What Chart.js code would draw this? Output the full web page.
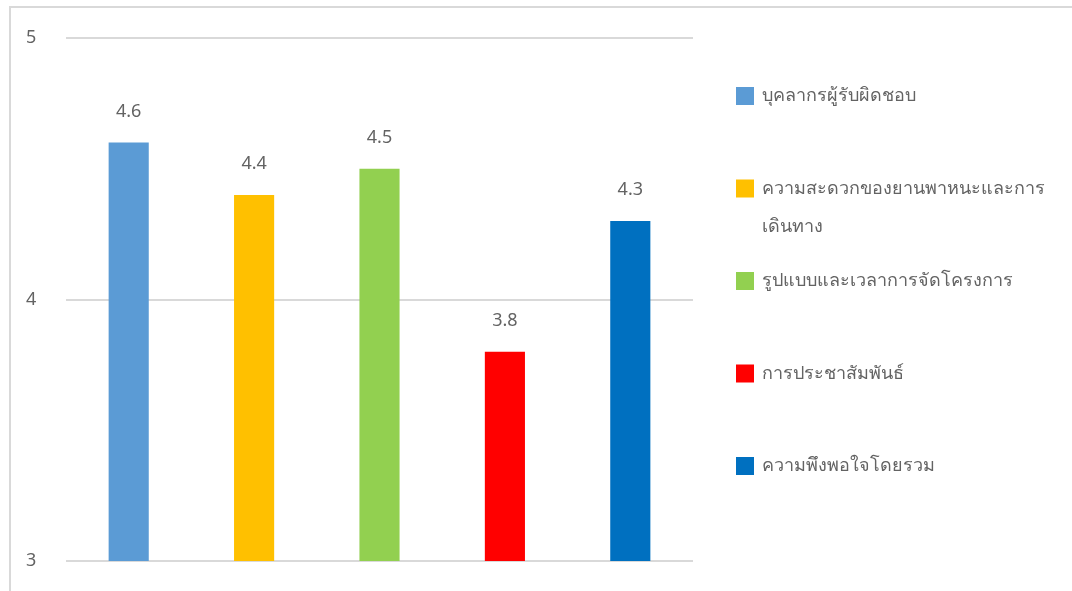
<!DOCTYPE html>
<html>
<head>
<meta charset="utf-8">
<script src="https://cdn.jsdelivr.net/npm/chart.js@4"></script>
<style>
  html, body { margin: 0; padding: 0; background: #fff; overflow: hidden; }
  #frame {
    position: absolute; left: 9px; top: 6px; width: 1200px; height: 700px;
    border-left: 2px solid #d9d9d9; border-top: 2px solid #d9d9d9;
  }
  #wrap { position: absolute; left: 0; top: 0; width: 1072px; height: 591px; }
</style>
</head>
<body>
<div id="frame"></div>
<div id="wrap"><canvas id="chart"></canvas></div>
<script>
// data
const categories = [''];
const seriesNames = [
    'บุคลากรผู้รับผิดชอบ',
    ['ความสะดวกของยานพาหนะและการ', 'เดินทาง'],
    'รูปแบบและเวลาการจัดโครงการ',
    'การประชาสัมพันธ์',
    'ความพึงพอใจโดยรวม'
];
const seriesValues = [4.6, 4.4, 4.5, 3.8, 4.3];
const seriesColors = ['#5B9BD5', '#FFC000', '#92D050', '#FF0000', '#0070C0'];
const yTicks = [3, 4, 5];

const FONT = "'Noto Sans', 'Leelawadee UI', Tahoma, sans-serif";
const TEXT = '#636363';

const datasets = seriesNames.map((name, i) => ({
    label: name,
    data: [seriesValues[i]],
    backgroundColor: seriesColors[i],
    barPercentage: 0.32,
    categoryPercentage: 1
}));

// value above each bar
const valueLabels = {
    id: 'valueLabels',
    afterDatasetsDraw(chart) {
        const ctx = chart.ctx;
        ctx.save();
        ctx.font = '18px ' + FONT;
        ctx.fillStyle = TEXT;
        ctx.textAlign = 'center';
        ctx.textBaseline = 'middle';
        chart.data.datasets.forEach((ds, i) => {
            const bar = chart.getDatasetMeta(i).data[0];
            ctx.fillText(ds.data[0].toFixed(1), bar.x, bar.y - 31);
        });
        ctx.restore();
    }
};

// legend on the right, with wrapped text
const sideLegend = {
    id: 'sideLegend',
    afterDraw(chart) {
        const ctx = chart.ctx;
        ctx.save();
        ctx.font = '18px ' + FONT;
        ctx.textBaseline = 'middle';
        ctx.textAlign = 'left';
        chart.data.datasets.forEach((ds, i) => {
            const y = 96 + i * 92.5;
            ctx.fillStyle = ds.backgroundColor;
            ctx.fillRect(736, y - 9, 18, 18);
            ctx.fillStyle = TEXT;
            const lines = Array.isArray(ds.label) ? ds.label : [ds.label];
            lines.forEach((line, j) => ctx.fillText(line, 762, y + j * 38));
        });
        ctx.restore();
    }
};

new Chart(document.getElementById('chart'), {
    type: 'bar',
    data: { labels: categories, datasets: datasets },
    options: {
        responsive: true,
        maintainAspectRatio: false,
        animation: false,
        layout: { padding: { left: 26, right: 379, top: 38, bottom: 30 } },
        plugins: {
            legend: { display: false },
            tooltip: { enabled: false }
        },
        scales: {
            x: { display: false },
            y: {
                min: 3,
                max: 5,
                afterFit(scale) { scale.width = 40; },
                afterBuildTicks(scale) { scale.ticks = yTicks.map(v => ({ value: v })); },
                border: { display: false },
                grid: { color: '#d9d9d9', lineWidth: 2, drawTicks: false },
                ticks: {
                    color: TEXT,
                    font: { size: 18, family: FONT },
                    crossAlign: 'far',
                    padding: 0
                }
            }
        }
    },
    plugins: [valueLabels, sideLegend]
});
</script>
</body>
</html>
